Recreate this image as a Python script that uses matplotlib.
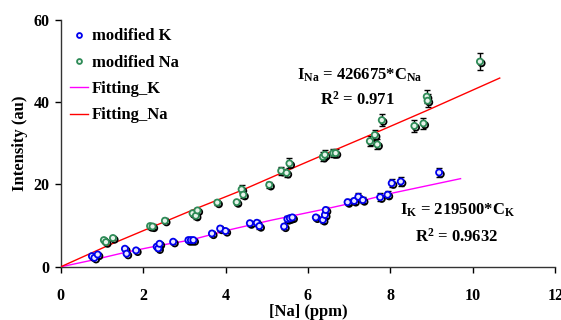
import matplotlib
matplotlib.use("Agg")
import matplotlib.pyplot as plt
import matplotlib.patheffects as pe

# ---- data ----
na_x = [1.05, 1.10, 1.27, 2.17, 2.23, 2.53, 3.20, 3.28, 3.32, 3.80, 4.27, 4.39, 4.43, 5.06, 5.35,
        5.48, 5.55, 6.36, 6.41, 6.61, 6.67, 7.50, 7.62, 7.68, 7.79, 8.58, 8.80, 8.88, 8.90, 10.17]
na_y = [6.5, 6.0, 7.0, 9.9, 9.8, 11.2, 13.0, 12.4, 13.7, 15.6, 15.7, 18.8, 17.5, 19.9, 23.3,
        22.8, 25.1, 26.7, 27.2, 27.6, 27.6, 30.5, 32.0, 29.7, 35.6, 34.2, 34.8, 41.3, 40.3, 49.8]
na_err = [0.5, 0.5, 0.5, 0.6, 0.6, 0.6, 0.7, 0.7, 0.7, 0.6, 0.6, 1.0, 0.8, 0.8, 1.0,
          1.0, 1.2, 1.1, 1.1, 1.0, 1.0, 1.2, 1.3, 1.2, 1.5, 1.5, 1.4, 1.5, 1.6, 2.1]

k_x = [0.76, 0.82, 0.90, 1.56, 1.60, 1.83, 2.33, 2.37, 2.40, 2.73, 3.10, 3.16, 3.22, 3.67, 3.87,
       4.00, 4.59, 4.76, 4.82, 5.42, 5.50, 5.56, 5.62, 6.19, 6.36, 6.41, 6.43, 6.96, 7.12, 7.22,
       7.33, 7.75, 7.93, 8.03, 8.25, 9.18]
k_y = [2.6, 2.2, 3.0, 4.4, 3.2, 4.0, 4.9, 4.5, 5.6, 6.1, 6.5, 6.5, 6.5, 8.1, 9.3,
       8.7, 10.6, 10.7, 9.9, 9.8, 11.6, 11.8, 12.0, 12.0, 11.4, 12.6, 13.8, 15.7, 16.0, 17.0,
       16.2, 16.9, 17.5, 20.3, 20.7, 22.9]
k_err = [0.4, 0.4, 0.4, 0.4, 0.4, 0.4, 0.5, 0.5, 0.5, 0.5, 0.5, 0.5, 0.5, 0.5, 0.6,
         0.6, 0.6, 0.6, 0.6, 0.6, 0.7, 0.7, 0.7, 0.7, 0.7, 0.7, 0.8, 0.8, 0.8, 0.9,
         0.8, 0.9, 0.9, 1.0, 1.0, 1.1]

fit_k_x = [0, 0.8, 1.6, 2.4, 3.15, 4.1, 5.1, 6.4, 7.3, 8.0, 9.7]
fit_k_y = [0, 1.7, 3.6, 5.2, 6.5, 9.0, 11.3, 14.0, 16.0, 17.8, 21.4]
fit_na_x = [0, 0.8, 1.2, 2.2, 3.3, 4.4, 5.5, 6.5, 7.7, 8.9, 10.65]
fit_na_y = [0, 3.6, 5.4, 9.6, 14.2, 18.6, 23.4, 27.7, 32.8, 38.0, 45.8]

x_ticks = [0, 2, 4, 6, 8, 10, 12]
y_ticks = [0, 20, 40, 60]

# ---- style ----
plt.rcParams['font.family'] = ['Liberation Serif', 'DejaVu Serif']
plt.rcParams['font.weight'] = 'bold'
plt.rcParams['mathtext.fontset'] = 'custom'
plt.rcParams['mathtext.rm'] = 'Liberation Serif:bold'
plt.rcParams['mathtext.bf'] = 'Liberation Serif:bold'
plt.rcParams['mathtext.it'] = 'Liberation Serif:bold'
plt.rcParams['mathtext.default'] = 'bf'

fig = plt.figure(figsize=(5.61, 3.20), dpi=100)
ax = fig.add_axes([0.108, 0.166, 0.882, 0.773])

shadow = [pe.SimpleLineShadow(offset=(1.2, -1.2), shadow_color='black', alpha=1.0), pe.Normal()]

ax.errorbar(k_x, k_y, yerr=k_err, fmt='none', ecolor='black', elinewidth=1.0, capsize=2.5, capthick=1.0, zorder=2)
ax.errorbar(na_x, na_y, yerr=na_err, fmt='none', ecolor='black', elinewidth=1.0, capsize=2.5, capthick=1.0, zorder=2)

ax.plot(k_x, k_y, linestyle='none', marker='o', markersize=4.4, markerfacecolor='#e8e8ff',
        markeredgecolor='#0000ee', markeredgewidth=1.3, label='modified K', zorder=4,
        path_effects=shadow)
ax.plot(na_x, na_y, linestyle='none', marker='o', markersize=4.4, markerfacecolor='#e8f4ec',
        markeredgecolor='#2e8b57', markeredgewidth=1.3, label='modified Na', zorder=4,
        path_effects=shadow)

ax.plot(fit_k_x, fit_k_y, color='#ff00ff', linewidth=1.0, label='Fitting_K', zorder=3)
ax.plot(fit_na_x, fit_na_y, color='#ff0000', linewidth=1.0, label='Fitting_Na', zorder=3)

ax.set_xlim(0, 12)
ax.set_ylim(0, 60)
ax.set_xticks(x_ticks)
ax.set_yticks(y_ticks)
ax.tick_params(direction='out', length=4, width=1, labelsize=11.5, colors='black', pad=4)
for lab in ax.get_xticklabels() + ax.get_yticklabels():
    lab.set_fontweight('bold')
ax.xaxis.set_tick_params(pad=11)

for s in ['top', 'right']:
    ax.spines[s].set_visible(False)
for s in ['left', 'bottom']:
    ax.spines[s].set_color('#333333')
    ax.spines[s].set_linewidth(1.0)

ax.set_xlabel('[Na] (ppm)', fontsize=12, fontweight='bold', labelpad=0)
ax.set_ylabel('Intensity (au)', fontsize=12, fontweight='bold', labelpad=4)

leg = ax.legend(loc='upper left', bbox_to_anchor=(-0.012, 1.025), frameon=False,
                prop={'family': 'Liberation Serif', 'weight': 'bold', 'size': 12},
                handlelength=1.1, handletextpad=0.25, labelspacing=0.62, markerscale=0.8)
for h in leg.legend_handles[:2]:
    h.set_path_effects([])

ax.text(5.73, 46.5, r'I$_{Na}$ = 426675*C$_{Na}$', fontsize=12, ha='left', va='center')
ax.text(6.3, 40.6, r'R$^{2}$ = 0.971', fontsize=12, ha='left', va='center')
ax.text(8.24, 13.8, r'I$_{K}$ = 219500*C$_{K}$', fontsize=12, ha='left', va='center')
ax.text(8.6, 7.4, r'R$^{2}$ = 0.9632', fontsize=12, ha='left', va='center')

fig.savefig('out.png', dpi=100)
